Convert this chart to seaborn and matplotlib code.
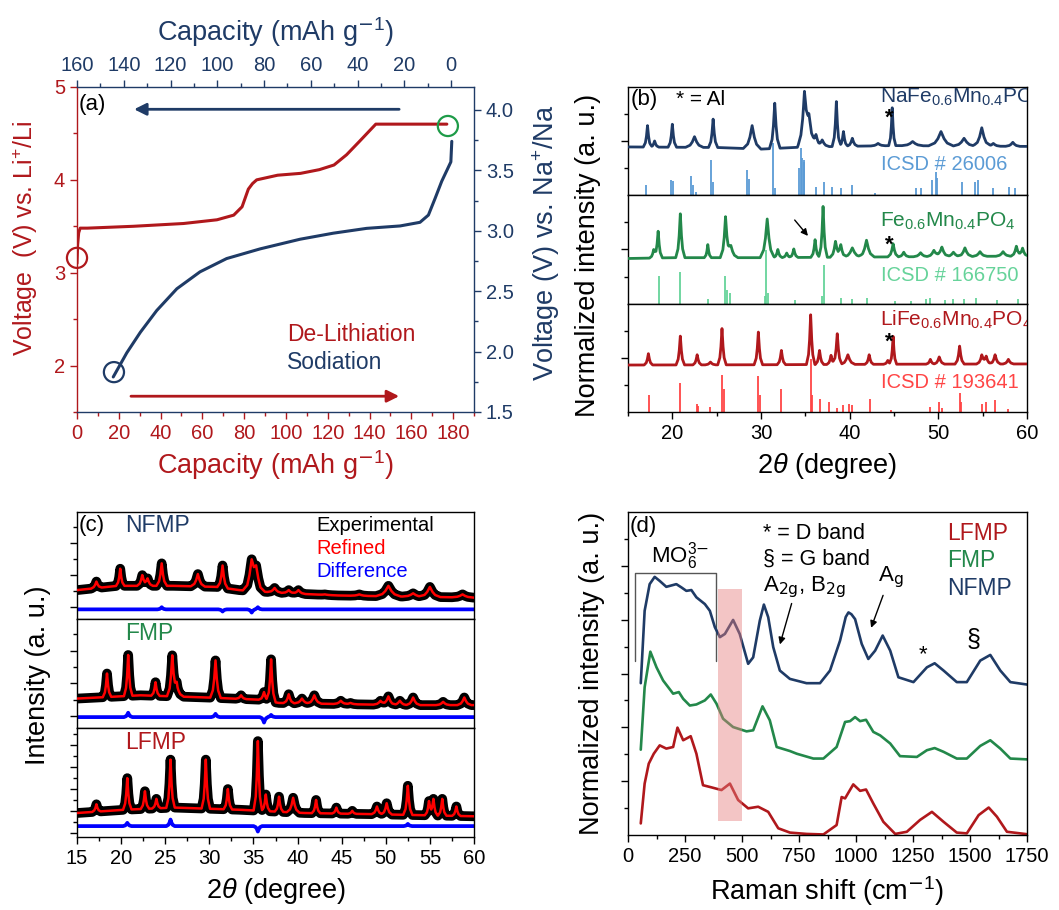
import numpy as np
import matplotlib
matplotlib.use("Agg")
import matplotlib.pyplot as plt
from matplotlib.ticker import FormatStrFormatter
import seaborn as sns

# ------------------------------------------------------------------ data
# (a) charge / discharge profiles
li_cap = [0, 0.3, 0.8, 1.5, 5, 27, 51, 67, 75, 79, 82, 84, 86, 96, 107, 116, 123, 129, 135, 143, 160, 177]
li_volt = [3.1, 3.3, 3.43, 3.48, 3.48, 3.50, 3.53, 3.57, 3.62, 3.71, 3.90, 3.96, 4.00, 4.05, 4.07, 4.11, 4.16, 4.27, 4.41, 4.60, 4.60, 4.60]
na_cap = [144.5, 138.7, 132.9, 125.9, 117.3, 107.4, 96.0, 81.7, 64.6, 50.4, 36.1, 21.8, 13.3, 9.7, 6.8, 4.0, 1.8, 0.1, -0.3]
na_volt = [1.79, 1.99, 2.16, 2.34, 2.52, 2.66, 2.77, 2.85, 2.93, 2.98, 3.02, 3.04, 3.07, 3.13, 3.27, 3.41, 3.50, 3.57, 3.74]

# (b) XRD patterns (peak position, apex, half width) + background knots
nfmp_b_base_x = [15, 25, 30, 35, 45, 60]
nfmp_b_base_y = [1.78, 1.76, 1.70, 1.78, 1.83, 1.80]
nfmp_b_pos = [17.2, 18.0, 20.0, 22.5, 24.6, 29.0, 31.55, 34.9, 35.4, 36.2, 36.9, 38.5, 39.3, 40.3, 43.2, 44.8, 47.1, 50.3, 52.9, 54.9, 56.2, 58.4]
nfmp_b_top = [2.57, 2.00, 2.62, 2.16, 2.81, 2.57, 3.40, 3.55, 2.75, 2.10, 2.04, 3.46, 2.35, 2.10, 1.91, 3.23, 1.98, 2.35, 2.10, 2.49, 1.91, 1.95]
nfmp_b_hw = [0.12, 0.12, 0.12, 0.25, 0.13, 0.25, 0.15, 0.2, 0.3, 0.15, 0.2, 0.12, 0.12, 0.15, 0.2, 0.1, 0.3, 0.35, 0.3, 0.25, 0.2, 0.2]
icsd_26006_pos = [17.0, 19.8, 20.1, 22.1, 22.3, 22.7, 24.4, 24.6, 28.4, 28.6, 31.4, 31.6, 34.3, 34.5, 34.6, 34.8, 34.9, 36.2, 37.1, 38.0, 39.0, 40.3, 42.9, 47.5, 48.0, 49.3, 49.7, 49.9, 52.7, 54.1, 54.5, 56.2, 58.0, 58.6]
icsd_26006_h = [0.37, 0.56, 0.53, 0.72, 0.37, 0.10, 1.30, 0.49, 0.93, 0.59, 1.91, 0.25, 0.99, 1.73, 1.36, 1.30, 1.23, 0.31, 0.49, 0.31, 0.25, 0.37, 0.06, 0.25, 0.25, 0.56, 0.86, 0.62, 0.47, 0.49, 0.56, 0.25, 0.31, 0.25]

fmp_b_base_x = [15, 20, 30, 40, 50, 60]
fmp_b_base_y = [1.67, 1.70, 1.70, 1.72, 1.74, 1.76]
fmp_b_pos = [17.9, 18.4, 20.9, 24.0, 26.0, 26.6, 30.7, 31.9, 32.9, 33.7, 36.1, 37.0, 38.4, 39.0, 40.3, 41.9, 44.9, 46.1, 48.0, 49.5, 50.4, 51.7, 53.0, 54.7, 57.3, 58.8, 59.5]
fmp_b_top = [2.00, 2.67, 3.31, 2.18, 3.16, 2.15, 3.12, 2.00, 1.87, 2.02, 2.36, 3.58, 2.30, 2.18, 2.06, 2.34, 2.21, 1.90, 1.88, 1.97, 2.09, 1.90, 2.06, 1.92, 1.92, 2.12, 2.05]
fmp_b_hw = [0.12, 0.12, 0.13, 0.1, 0.15, 0.2, 0.2, 0.12, 0.12, 0.12, 0.12, 0.12, 0.15, 0.15, 0.25, 0.22, 0.15, 0.15, 0.2, 0.2, 0.2, 0.2, 0.2, 0.2, 0.2, 0.15, 0.15]
icsd_166750_pos = [18.5, 20.9, 24.0, 25.9, 26.2, 26.5, 30.4, 30.6, 30.75, 33.8, 36.9, 37.1, 39.0, 40.3, 41.9, 45.1, 46.9, 48.6, 49.1, 50.8, 51.7, 52.9, 54.3, 56.6, 59.0]
icsd_166750_h = [1.04, 1.16, 0.18, 1.02, 0.53, 0.40, 0.28, 1.99, 0.40, 0.16, 0.28, 1.44, 0.22, 0.18, 0.22, 0.10, 0.10, 0.18, 0.22, 0.16, 0.18, 0.18, 0.22, 0.16, 0.18]

lfmp_b_base_x = [15, 30, 45, 60]
lfmp_b_base_y = [1.74, 1.75, 1.77, 1.78]
lfmp_b_pos = [17.3, 20.9, 22.8, 24.3, 25.6, 29.7, 32.3, 35.6, 36.6, 37.9, 38.6, 39.8, 42.2, 44.3, 44.9, 49.1, 50.1, 52.4, 54.9, 55.4, 56.4, 57.9]
lfmp_b_top = [2.16, 2.81, 2.12, 1.85, 3.09, 2.96, 2.28, 3.60, 2.28, 2.10, 2.90, 2.12, 2.12, 1.91, 2.80, 1.95, 2.04, 2.44, 2.10, 2.05, 2.12, 1.95]
lfmp_b_hw = [0.12, 0.12, 0.12, 0.15, 0.12, 0.12, 0.12, 0.12, 0.12, 0.12, 0.13, 0.2, 0.12, 0.12, 0.1, 0.12, 0.15, 0.13, 0.15, 0.15, 0.15, 0.15]
icsd_193641_pos = [17.4, 20.9, 22.8, 22.9, 24.3, 25.6, 25.8, 29.7, 29.9, 32.3, 35.6, 35.8, 36.7, 37.7, 38.6, 39.3, 39.9, 40.3, 42.3, 44.7, 49.1, 50.1, 50.4, 52.4, 52.6, 54.9, 55.4, 56.4, 57.9]
icsd_193641_h = [0.62, 1.09, 0.31, 0.22, 0.19, 1.36, 0.86, 1.33, 0.62, 0.84, 1.95, 0.62, 0.47, 0.37, 0.15, 0.27, 0.31, 0.25, 0.49, 0.06, 0.19, 0.37, 0.15, 0.72, 0.37, 0.31, 0.37, 0.43, 0.12]

# (c) Rietveld refinements
nfmp_c_base_x = [15, 19.6, 25.9, 30.8, 33.4, 39, 44.6, 52, 60]
nfmp_c_base_y = [0.27, 0.31, 0.31, 0.30, 0.27, 0.24, 0.22, 0.21, 0.20]
nfmp_c_pos = [17.2, 19.9, 22.4, 23.0, 24.6, 28.7, 31.5, 34.8, 35.3, 37.4, 39.0, 40.1, 43.1, 47.0, 50.3, 53.1, 55.0, 58.7]
nfmp_c_top = [0.35, 0.47, 0.41, 0.38, 0.52, 0.42, 0.50, 0.52, 0.45, 0.29, 0.27, 0.27, 0.23, 0.23, 0.31, 0.24, 0.30, 0.23]
nfmp_c_hw = [0.15, 0.12, 0.15, 0.15, 0.15, 0.2, 0.15, 0.25, 0.25, 0.2, 0.2, 0.2, 0.2, 0.25, 0.35, 0.3, 0.3, 0.3]
nfmp_diff_pos = [24.6, 31.5, 34.8, 35.5]
nfmp_diff_top = [0.11, 0.07, 0.06, 0.11]

fmp_c_base_x = [15, 22.2, 29.7, 35.6, 37.9, 44.6, 52, 60]
fmp_c_base_y = [0.27, 0.30, 0.28, 0.26, 0.23, 0.22, 0.21, 0.21]
fmp_c_pos = [18.4, 20.8, 23.9, 25.8, 26.3, 30.7, 33.6, 36.2, 37.0, 39.0, 40.5, 41.9, 44.9, 46.0, 49.4, 50.3, 51.6, 53.1, 56.5, 58.9]
fmp_c_top = [0.50, 0.67, 0.42, 0.65, 0.40, 0.62, 0.30, 0.33, 0.63, 0.31, 0.27, 0.30, 0.25, 0.23, 0.25, 0.29, 0.25, 0.28, 0.24, 0.28]
fmp_c_hw = [0.12, 0.12, 0.12, 0.15, 0.2, 0.15, 0.15, 0.15, 0.13, 0.15, 0.2, 0.2, 0.2, 0.2, 0.2, 0.2, 0.2, 0.2, 0.2, 0.2]
fmp_diff_pos = [20.8, 30.7, 36.2, 37.0]
fmp_diff_top = [0.14, 0.13, 0.05, 0.12]

lfmp_c_base_x = [15, 20.4, 26, 33.4, 40.8, 48.3, 60]
lfmp_c_base_y = [0.22, 0.25, 0.27, 0.25, 0.22, 0.21, 0.19]
lfmp_c_pos = [17.2, 20.7, 22.7, 24.0, 25.6, 29.6, 32.1, 35.5, 36.4, 37.9, 39.5, 42.1, 44.4, 46.2, 49.0, 50.1, 52.5, 54.9, 55.4, 56.4, 58.0]
lfmp_c_top = [0.30, 0.54, 0.42, 0.35, 0.71, 0.71, 0.44, 0.88, 0.39, 0.37, 0.36, 0.34, 0.27, 0.24, 0.28, 0.31, 0.47, 0.33, 0.35, 0.35, 0.28]
lfmp_c_hw = [0.12, 0.12, 0.12, 0.12, 0.12, 0.12, 0.12, 0.12, 0.12, 0.12, 0.18, 0.12, 0.12, 0.12, 0.15, 0.15, 0.13, 0.12, 0.12, 0.12, 0.12]
lfmp_diff_pos = [20.7, 25.6, 35.5, 52.5]
lfmp_diff_top = [0.13, 0.16, 0.05, 0.12]
diff_level = [0.09, 0.10, 0.10]

# (d) Raman spectra
nfmp_r_x = [56, 73, 95, 117, 139, 168, 212, 234, 256, 278, 300, 337, 359, 381, 403, 425, 461, 490, 527, 549, 578, 596, 615, 637, 666, 710, 783, 842, 886, 930, 955, 967, 980, 996, 1025, 1054, 1084, 1117, 1150, 1186, 1252, 1311, 1345, 1384, 1442, 1486, 1545, 1589, 1633, 1677, 1750]
nfmp_r_y = [5.64, 8.33, 9.32, 9.59, 9.44, 9.22, 9.32, 9.2, 9.07, 9.1, 8.83, 8.58, 8.33, 7.72, 7.35, 7.47, 7.99, 7.47, 6.36, 6.6, 7.96, 8.56, 8.09, 6.98, 6.11, 5.8, 5.64, 5.64, 6.11, 7.22, 8.1, 8.27, 8.2, 8.02, 7.1, 6.54, 6.85, 7.41, 6.85, 5.86, 5.68, 6.23, 6.38, 6.11, 5.68, 5.68, 6.48, 6.69, 6.11, 5.68, 5.59]
fmp_r_x = [56, 73, 98, 125, 154, 198, 223, 242, 271, 300, 337, 363, 388, 417, 461, 520, 549, 590, 622, 652, 710, 740, 813, 857, 915, 952, 974, 996, 1018, 1044, 1076, 1106, 1150, 1193, 1267, 1311, 1345, 1384, 1442, 1486, 1545, 1589, 1633, 1677, 1750]
fmp_r_y = [3.17, 5.49, 6.81, 6.23, 5.74, 5.25, 5.31, 5.06, 4.81, 4.85, 5.0, 5.22, 4.88, 4.32, 4.01, 3.85, 3.89, 4.78, 4.26, 3.27, 3.12, 3.02, 2.84, 2.84, 3.27, 4.2, 4.23, 4.38, 4.23, 4.28, 3.83, 3.7, 3.4, 2.93, 2.9, 3.15, 3.23, 3.09, 2.84, 2.84, 3.31, 3.52, 3.21, 2.84, 2.81]
lfmp_r_x = [56, 73, 91, 113, 139, 168, 198, 217, 242, 275, 300, 329, 366, 410, 447, 483, 527, 571, 615, 659, 710, 783, 857, 915, 937, 952, 988, 1018, 1044, 1076, 1120, 1172, 1223, 1281, 1333, 1384, 1442, 1486, 1538, 1582, 1618, 1662, 1750]
lfmp_r_y = [0.43, 1.91, 2.65, 3.02, 3.33, 3.21, 3.27, 3.99, 3.52, 3.67, 3.02, 1.85, 1.77, 1.67, 1.91, 1.3, 0.99, 1.05, 0.86, 0.25, 0.09, 0.04, 0.02, 0.37, 1.41, 1.36, 1.88, 1.64, 1.69, 1.17, 0.49, 0.04, 0.12, 0.56, 0.86, 0.49, 0.09, 0.06, 0.74, 1.02, 0.68, 0.12, 0.03]

# ------------------------------------------------------------------ style
RED = "#B0181C"
NAVY = "#1F3B66"
GREEN = "#23884A"
CIRC_GREEN = "#1E9B48"
LBLUE = "#5B9BD5"
LGREEN = "#66D39A"
LRED = "#FF4545"

sns.set_theme(style="ticks")
plt.rcParams["font.family"] = ["Liberation Sans", "DejaVu Sans"]
plt.rcParams["mathtext.fontset"] = "custom"
plt.rcParams["mathtext.rm"] = "Liberation Sans"
plt.rcParams["mathtext.it"] = "Liberation Sans:italic"
plt.rcParams["mathtext.bf"] = "Liberation Sans:bold"
plt.rcParams["axes.edgecolor"] = "black"
plt.rcParams["axes.linewidth"] = 1.0
plt.rcParams["text.color"] = "black"
plt.rcParams["xtick.color"] = "black"
plt.rcParams["ytick.color"] = "black"

W, H = 1059, 910
fig = plt.figure(figsize=(W / 100, H / 100), dpi=100)


def rect(l, t, r, b):
    return [l / W, 1 - b / H, (r - l) / W, (b - t) / H]


SHAPE_OFF = np.array([-4, -2, -1, 0, 1, 2, 4.0])
SHAPE_FRAC = np.array([0, 0.2, 0.5, 1, 0.5, 0.2, 0])


def peak_curve(base_x, base_y, pos, top, hw):
    base_x = np.asarray(base_x, float)
    base_y = np.asarray(base_y, float)
    pos = np.asarray(pos, float)
    top = np.asarray(top, float)
    hw = np.asarray(hw, float)
    xs = np.unique(np.concatenate([base_x] + [p + SHAPE_OFF * h for p, h in zip(pos, hw)]))
    xs = xs[(xs >= base_x[0]) & (xs <= base_x[-1])]
    ys = np.interp(xs, base_x, base_y)
    amp = top - np.interp(pos, base_x, base_y)
    for p, a, h in zip(pos, amp, hw):
        ys = ys + a * np.interp(xs, p + SHAPE_OFF * h, SHAPE_FRAC)
    return xs, ys


def line(ax, x, y, color, lw, z=2):
    sns.lineplot(x=np.asarray(x), y=np.asarray(y), ax=ax, color=color, lw=lw,
                 sort=False, estimator=None, legend=False, zorder=z)


TL = dict(direction="out", length=5, width=1)
TLm = dict(direction="out", length=3, width=1)
HYPH = "\\mathsf{-}"

# ------------------------------------------------------------------ (a)
ax_a = fig.add_axes(rect(77, 87, 474, 412))
line(ax_a, li_cap, li_volt, RED, 2.2)
ax_a.set_xlim(0, 190)
ax_a.set_ylim(1.5, 5)
ax_a.set_xticks(np.arange(0, 181, 20))
ax_a.set_xticks(np.arange(10, 191, 20), minor=True)
ax_a.set_yticks([2, 3, 4, 5])
ax_a.set_yticks([1.5, 2.5, 3.5, 4.5], minor=True)
ax_a.tick_params(which="major", colors=RED, labelsize=14.5, **TL)
ax_a.tick_params(which="minor", colors=RED, **TLm)
ax_a.spines["left"].set_color(RED)
ax_a.spines["bottom"].set_color(NAVY)
ax_a.spines["top"].set_visible(False)
ax_a.spines["right"].set_visible(False)
ax_a.set_xlabel("")
ax_a.set_ylabel("")
ax_a.scatter([0], [3.16], s=210, facecolors="none", edgecolors=RED, linewidths=1.6, clip_on=False, zorder=5)
ax_a.scatter([177.5], [4.58], s=210, facecolors="none", edgecolors=CIRC_GREEN, linewidths=1.6, clip_on=False, zorder=5)
ax_a.annotate("", xy=(26, 4.76), xytext=(155.5, 4.76),
              arrowprops=dict(arrowstyle="-|>", color=NAVY, lw=2, mutation_scale=18))
ax_a.annotate("", xy=(155.5, 1.67), xytext=(24.5, 1.67),
              arrowprops=dict(arrowstyle="-|>", color=RED, lw=2, mutation_scale=18))
ax_a.text(0.6, 4.81, "(a)", fontsize=16, va="center", ha="left")
ax_a.text(100.5, 2.33, "De-Lithiation", fontsize=16.5, color=RED, va="center", ha="left")
ax_a.text(100.5, 2.03, "Sodiation", fontsize=16.5, color=NAVY, va="center", ha="left")

ax_r = ax_a.twinx()
ax_t = ax_r.twiny()
line(ax_t, na_cap, na_volt, NAVY, 2.2)
ax_t.scatter([144.2], [1.83], s=210, facecolors="none", edgecolors=NAVY, linewidths=1.6, clip_on=False, zorder=5)
ax_t.set_xlim(160, -9.8)
ax_r.set_ylim(1.5, 4.19)
ax_t.set_xticks(np.arange(0, 161, 20))
ax_t.set_xticks(np.arange(10, 151, 20), minor=True)
ax_r.set_yticks(np.arange(1.5, 4.01, 0.5))
ax_r.set_yticks(np.arange(1.75, 4.2, 0.5), minor=True)
ax_r.yaxis.set_major_formatter(FormatStrFormatter("%.1f"))
ax_r.tick_params(which="major", colors=NAVY, labelsize=14.5, **TL)
ax_r.tick_params(which="minor", colors=NAVY, **TLm)
ax_t.tick_params(which="major", colors=NAVY, labelsize=14.5, **TL)
ax_t.tick_params(which="minor", colors=NAVY, **TLm)
for s in ["left", "bottom", "top"]:
    ax_r.spines[s].set_visible(False)
ax_r.spines["right"].set_color(NAVY)
for s in ["left", "bottom", "right"]:
    ax_t.spines[s].set_visible(False)
ax_t.spines["top"].set_color(NAVY)
ax_t.set_xlabel("")
ax_t.set_ylabel("")
ax_r.set_ylabel("")

# ------------------------------------------------------------------ (b)
b_edges = [87, 195, 304, 412]
b_sets = [
    (nfmp_b_base_x, nfmp_b_base_y, nfmp_b_pos, nfmp_b_top, nfmp_b_hw, NAVY, icsd_26006_pos, icsd_26006_h, LBLUE,
     "NaFe$_{0.6}$Mn$_{0.4}$PO$_4$", 3.6, 2.86, "ICSD # 26006", 1.14),
    (fmp_b_base_x, fmp_b_base_y, fmp_b_pos, fmp_b_top, fmp_b_hw, GREEN, icsd_166750_pos, icsd_166750_h, LGREEN,
     "Fe$_{0.6}$Mn$_{0.4}$PO$_4$", 3.03, 2.16, "ICSD # 166750", 1.04),
    (lfmp_b_base_x, lfmp_b_base_y, lfmp_b_pos, lfmp_b_top, lfmp_b_hw, RED, icsd_193641_pos, icsd_193641_h, LRED,
     "LiFe$_{0.6}$Mn$_{0.4}$PO$_4$", 3.4, 2.6, "ICSD # 193641", 1.09),
]
for i, (bx, by, pos, top, hw, col, spos, sh, scol, name, ny, sy, icsd, iy) in enumerate(b_sets):
    ax = fig.add_axes(rect(628, b_edges[i], 1027, b_edges[i + 1]))
    ax.vlines(spos, 0, sh, color=scol, lw=1.3, zorder=1)
    xs, ys = peak_curve(bx, by, pos, top, hw)
    line(ax, xs, ys, col, 2.0, z=3)
    ax.set_xlim(15, 60)
    ax.set_ylim(0, 4)
    ax.set_yticks([2])
    ax.set_yticks([1, 3], minor=True)
    ax.tick_params(axis="y", which="major", labelleft=False, **TL)
    ax.tick_params(axis="y", which="minor", **TLm)
    ax.set_xticks(np.arange(20, 61, 10))
    ax.set_xticks(np.arange(15, 60, 5), minor=True)
    if i < 2:
        ax.tick_params(axis="x", which="both", bottom=False, labelbottom=False)
    else:
        ax.tick_params(axis="x", which="major", labelsize=14.5, **TL)
        ax.tick_params(axis="x", which="minor", **TLm)
    ax.set_xlabel("")
    ax.set_ylabel("")
    ax.text(43.4, ny, name, fontsize=15, color=col, va="center", ha="left", clip_on=True)
    ax.text(44.0, sy, "*", fontsize=16, color="black", va="center", ha="left", fontweight="bold")
    ax.text(43.5, iy, icsd, fontsize=14.5, color=scol, va="center", ha="left")
    if i == 0:
        ax.text(15.3, 3.52, "(b)", fontsize=16, va="center", ha="left")
        ax.text(20.4, 3.52, "* = Al", fontsize=15, va="center", ha="left")
    if i == 1:
        ax.annotate("", xy=(35.5, 2.42), xytext=(33.6, 3.16),
                    arrowprops=dict(arrowstyle="-|>", color="black", lw=1, mutation_scale=10))

# ------------------------------------------------------------------ (c)
c_edges = [512, 619, 728, 837]
c_sets = [
    (nfmp_c_base_x, nfmp_c_base_y, nfmp_c_pos, nfmp_c_top, nfmp_c_hw, nfmp_diff_pos, nfmp_diff_top, "NFMP", NAVY,
     np.arange(0.11, 0.95, 0.15)),
    (fmp_c_base_x, fmp_c_base_y, fmp_c_pos, fmp_c_top, fmp_c_hw, fmp_diff_pos, fmp_diff_top, "FMP", GREEN,
     np.arange(0.11, 0.95, 0.15)),
    (lfmp_c_base_x, lfmp_c_base_y, lfmp_c_pos, lfmp_c_top, lfmp_c_hw, lfmp_diff_pos, lfmp_diff_top, "LFMP", RED,
     np.arange(0.04, 0.99, 0.101)),
]
for i, (bx, by, pos, top, hw, dpos, dtop, name, col, yt) in enumerate(c_sets):
    ax = fig.add_axes(rect(77, c_edges[i], 474, c_edges[i + 1]))
    xs, ys = peak_curve(bx, by, pos, top, hw)
    dx, dy = peak_curve([15, 60], [diff_level[i]] * 2, dpos, dtop, [0.12] * len(dpos))
    line(ax, dx, dy, "#0000FF", 2.7, z=2)
    line(ax, xs, ys, "black", 7.0, z=3)
    line(ax, xs, ys, "#FF0000", 1.8, z=4)
    ax.set_xlim(15, 60)
    ax.set_ylim(0, 1)
    ax.set_yticks(yt[::2])
    ax.set_yticks(yt[1::2], minor=True)
    ax.tick_params(axis="y", which="major", labelleft=False, **TL)
    ax.tick_params(axis="y", which="minor", **TLm)
    ax.set_xticks(np.arange(15, 61, 5))
    ax.set_xticks(np.arange(17.5, 60, 5), minor=True)
    if i < 2:
        ax.tick_params(axis="x", which="both", bottom=False, labelbottom=False)
    else:
        ax.tick_params(axis="x", which="major", labelsize=14.5, **TL)
        ax.tick_params(axis="x", which="minor", **TLm)
    ax.set_xlabel("")
    ax.set_ylabel("")
    ax.text(20.4, 0.87, name, fontsize=16.5, color=col, va="center", ha="left")
    if i == 0:
        ax.text(15.2, 0.87, "(c)", fontsize=16, va="center", ha="left")
        ax.text(42.1, 0.87, "Experimental", fontsize=14.5, color="black", va="center", ha="left")
        ax.text(42.1, 0.655, "Refined", fontsize=14.5, color="#FF0000", va="center", ha="left")
        ax.text(42.1, 0.44, "Difference", fontsize=14.5, color="#0000FF", va="center", ha="left")

# ------------------------------------------------------------------ (d)
ax_d = fig.add_axes(rect(628, 512, 1027, 835))
line(ax_d, nfmp_r_x, nfmp_r_y, NAVY, 1.9)
line(ax_d, fmp_r_x, fmp_r_y, GREEN, 1.9)
line(ax_d, lfmp_r_x, lfmp_r_y, RED, 1.9)
ax_d.fill_between([395, 502], 0.53, 9.14, color="#E57F7F", alpha=0.45, lw=0, zorder=5)
ax_d.plot([29, 29, 384, 384], [6.48, 9.75, 9.75, 6.48], color="#555555", lw=1.0, zorder=1)
ax_d.set_xlim(0, 1750)
ax_d.set_ylim(0, 12)
ax_d.set_xticks(np.arange(0, 1751, 250))
ax_d.set_xticks(np.arange(125, 1750, 250), minor=True)
ax_d.set_yticks([2, 4, 6, 8, 10])
ax_d.set_yticks([1, 3, 5, 7, 9, 11], minor=True)
ax_d.tick_params(axis="x", which="major", labelsize=14.5, **TL)
ax_d.tick_params(axis="x", which="minor", **TLm)
ax_d.tick_params(axis="y", which="major", labelleft=False, **TL)
ax_d.tick_params(axis="y", which="minor", **TLm)
ax_d.set_xlabel("")
ax_d.set_ylabel("")
ax_d.text(8, 11.45, "(d)", fontsize=16, va="center", ha="left")
ax_d.text(227, 10.35, "MO$_6^{3" + HYPH + "}$", fontsize=16, va="center", ha="center")
ax_d.text(593, 11.2, "* = D band", fontsize=15.5, va="center", ha="left")
ax_d.text(593, 10.25, "§ = G band", fontsize=15.5, va="center", ha="left")
ax_d.text(590, 9.2, "A$_{\\mathsf{2g}}$, B$_{\\mathsf{2g}}$", fontsize=16, va="center", ha="left")
ax_d.text(1098, 9.6, "A$_{\\mathsf{g}}$", fontsize=16, va="center", ha="left")
ax_d.text(1296, 6.7, "*", fontsize=16, va="center", ha="center")
ax_d.text(1516, 7.25, "§", fontsize=18, va="center", ha="center")
ax_d.annotate("", xy=(663, 6.98), xytext=(721, 8.7),
              arrowprops=dict(arrowstyle="-|>", color="black", lw=1, mutation_scale=10))
ax_d.annotate("", xy=(1062, 7.6), xytext=(1123, 9.0),
              arrowprops=dict(arrowstyle="-|>", color="black", lw=1, mutation_scale=10))
ax_d.text(1398, 11.2, "LFMP", fontsize=16.5, color=RED, va="center", ha="left")
ax_d.text(1398, 10.2, "FMP", fontsize=16.5, color=GREEN, va="center", ha="left")
ax_d.text(1398, 9.17, "NFMP", fontsize=16.5, color=NAVY, va="center", ha="left")

# ------------------------------------------------------------------ figure labels
LS = 19.5


def ftext(px, py, s, size=LS, **kw):
    fig.text(px / W, 1 - py / H, s, ha="center", va="center", fontsize=size, **kw)


ftext(25, 238, "Voltage  (V) vs. Li$^{+}$/Li", size=18, rotation=90, color=RED)
ftext(546, 243, "Voltage (V) vs. Na$^{+}$/Na", rotation=90, color=NAVY)
ftext(276, 32, "Capacity (mAh g$^{" + HYPH + "1}$)", color=NAVY)
ftext(276, 465, "Capacity (mAh g$^{" + HYPH + "1}$)", color=RED)
ftext(827, 466, "2$\\theta$ (degree)")
ftext(588, 255, "Normalized intensity (a. u.)", rotation=90)
ftext(38, 675, "Intensity (a. u.)", rotation=90)
ftext(276, 891, "2$\\theta$ (degree)")
ftext(827, 891, "Raman shift (cm$^{" + HYPH + "1}$)")
ftext(592, 673, "Normalized intensity (a. u.)", rotation=90)

fig.savefig("out.png", dpi=100)
